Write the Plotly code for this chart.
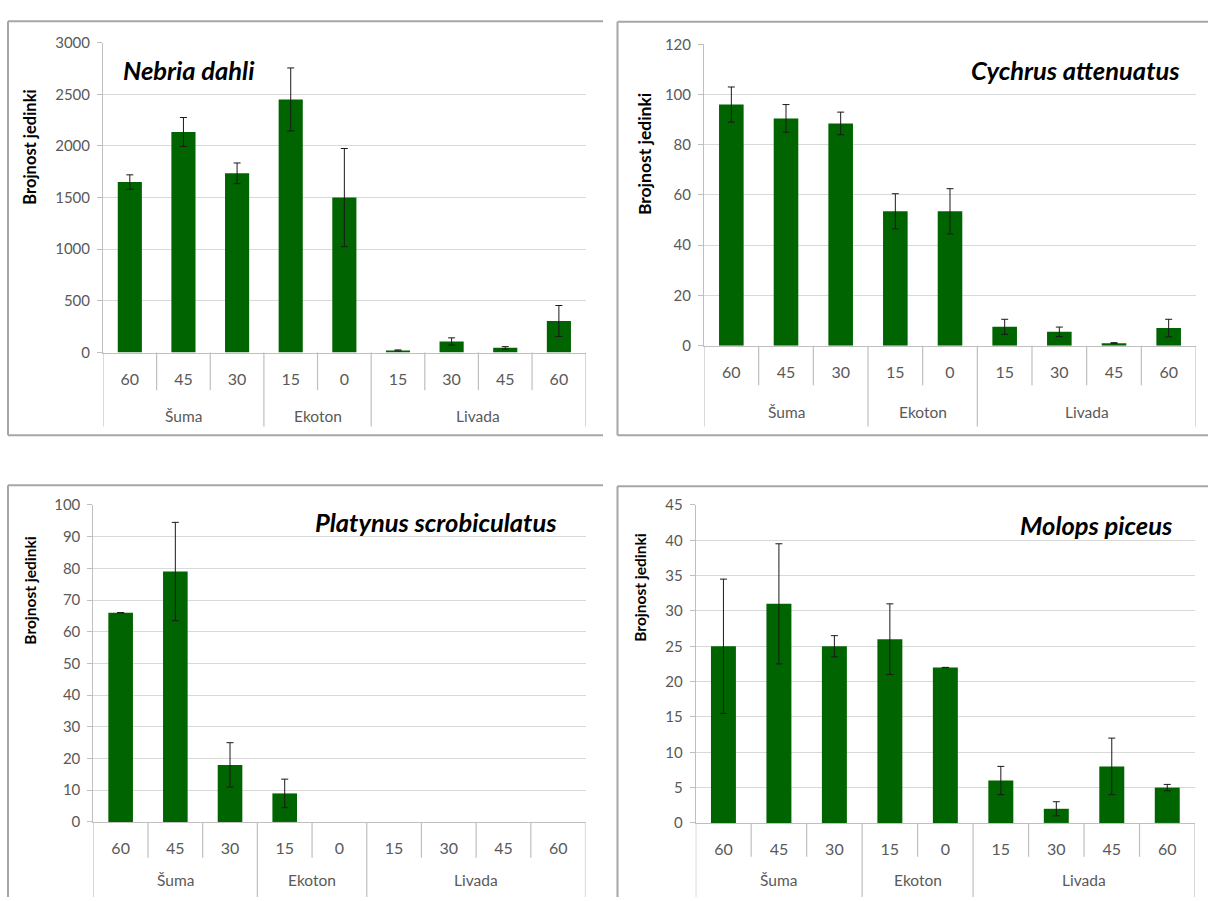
import plotly.graph_objects as go

W, H = 1208, 901

# ---------------- data ----------------
dist_labels = ["60", "45", "30", "15", "0", "15", "30", "45", "60"]
groups = ["Šuma", "Ekoton", "Livada"]
group_sizes = [3, 2, 4]

species = ["Nebria dahli", "Cychrus attenuatus", "Platynus scrobiculatus", "Molops piceus"]

nebria_mean = [1650, 2135, 1735, 2450, 1500, 20, 107, 45, 305]
nebria_err = [70, 140, 100, 305, 475, 5, 35, 12, 150]

cychrus_mean = [96, 90.5, 88.5, 53.5, 53.5, 7.5, 5.5, 1, 7]
cychrus_err = [7, 5.5, 4.5, 7, 9, 3, 1.9, 0.2, 3.5]

platynus_mean = [66, 79, 18, 9, 0, 0, 0, 0, 0]
platynus_err = [0, 15.5, 7, 4.5, 0, 0, 0, 0, 0]

molops_mean = [25, 31, 25, 26, 22, 6, 2, 8, 5]
molops_err = [9.5, 8.5, 1.5, 5, 0, 2, 1, 4, 0.45]

y_title = "Brojnost jedinki"

# ---------------- layout helpers ----------------
def px_x(px):
    return px / W

def px_y(py):
    return 1 - py / H

BAR = "#006400"
GRID = "#d9d9d9"
AXIS = "#bfbfbf"
TXT = "#595959"
FRAME = "#a6a6a6"
FONT = "Lato"

panels = [
    dict(m=nebria_mean, e=nebria_err, ymax=3000, dt=500, x0=103, x1=585.7, yz=349.5, yt=33.3,
         ib=388, gb=425, grp_y=414, tx=120.5, ty=61, ta="left", ax=30.5, ay=140, asz=16.5),
    dict(m=cychrus_mean, e=cychrus_err, ymax=120, dt=20, x0=704, x1=1196, yz=342.5, yt=35,
         ib=383, gb=425, grp_y=410, tx=1182, ty=61.5, ta="right", ax=644, ay=147, asz=17.5),
    dict(m=platynus_mean, e=platynus_err, ymax=100, dt=10, x0=93.3, x1=585.5, yz=828.5, yt=505,
         ib=865, gb=905, grp_y=888, tx=313, ty=522, ta="left", ax=30.5, ay=593, asz=15.5),
    dict(m=molops_mean, e=molops_err, ymax=45, dt=5, x0=695.7, x1=1195, yz=829.5, yt=505,
         ib=864, gb=905, grp_y=888, tx=1175, ty=525, ta="right", ax=640.5, ay=590, asz=15.5),
]

fig = go.Figure()
shapes = []
annotations = []

xs = list(range(len(dist_labels)))

bounds = [-0.5]
for s in group_sizes:
    bounds.append(bounds[-1] + s)
group_centers = [(bounds[i] + bounds[i + 1]) / 2 for i in range(len(groups))]

for i, p in enumerate(panels):
    k = "" if i == 0 else str(i + 1)
    xa, ya = "x" + k, "y" + k
    # zero counts are drawn as empty slots (no bar, no error cap), as in the source
    yvals = [v if v > 0 else None for v in p["m"]]
    fig.add_trace(go.Bar(
        x=xs, y=yvals, xaxis=xa, yaxis=ya,
        marker=dict(color=BAR, line=dict(width=0)),
        error_y=dict(type="data", array=p["e"], visible=True, color="#1a1a1a",
                     thickness=1, width=3.5),
        showlegend=False, hoverinfo="skip",
    ))
    xd = [px_x(p["x0"]), px_x(p["x1"])]
    yd = [px_y(p["yz"]), px_y(p["yt"])]
    fig.update_layout(**{
        "xaxis" + k: dict(domain=xd, anchor=ya, range=[-0.5, len(xs) - 0.5],
                          tickvals=xs, ticktext=dist_labels, ticks="",
                          showgrid=False, zeroline=False, showline=True,
                          linecolor=AXIS, linewidth=1,
                          tickfont=dict(family=FONT, size=16, color=TXT),
                          ticklabelstandoff=12, fixedrange=True),
        "yaxis" + k: dict(domain=yd, anchor=xa, range=[0, p["ymax"]], dtick=p["dt"],
                          showgrid=True, gridcolor=GRID, gridwidth=1,
                          zeroline=False, showline=True, linecolor=AXIS, linewidth=1,
                          ticks="outside", ticklen=5, tickcolor=AXIS,
                          ticklabelstandoff=4,
                          tickfont=dict(family=FONT, size=15, color=TXT),
                          fixedrange=True),
    })
    for b in range(len(xs) + 1):
        xv = b - 0.5
        long = xv in bounds
        shapes.append(dict(type="line", xref=xa, yref="paper",
                           x0=xv, x1=xv, y0=px_y(p["yz"]),
                           y1=px_y(p["gb"] if long else p["ib"]),
                           line=dict(color=AXIS, width=1.2)))
    for g, c in zip(groups, group_centers):
        annotations.append(dict(text=g, x=c, xref=xa, y=px_y(p["grp_y"]), yref="paper",
                                showarrow=False, xanchor="center", yanchor="middle",
                                font=dict(family=FONT, size=15.5, color=TXT)))
    annotations.append(dict(text="<b><i>%s</i></b>" % species[i], x=px_x(p["tx"]), xref="paper",
                            y=px_y(p["ty"]), yref="paper", showarrow=False,
                            xanchor=p["ta"], yanchor="middle",
                            font=dict(family=FONT, size=25.5, color="#000000")))
    annotations.append(dict(text="<b>%s</b>" % y_title, x=px_x(p["ax"]), xref="paper",
                            y=px_y(p["ay"]), yref="paper", showarrow=False, textangle=-90,
                            xanchor="center", yanchor="middle",
                            font=dict(family=FONT, size=p["asz"], color="#000000")))

def fline(x0, y0, x1, y1):
    shapes.append(dict(type="line", xref="paper", yref="paper",
                       x0=px_x(x0), y0=px_y(y0), x1=px_x(x1), y1=px_y(y1),
                       line=dict(color=FRAME, width=2)))

fline(8, 11.5, 603, 11.5); fline(8, 11.5, 8, 434); fline(8, 434, 603, 434)
fline(617.5, 12, 1210, 12); fline(617.5, 12, 617.5, 434); fline(617.5, 434, 1210, 434)
fline(8, 485, 603, 485); fline(8, 485, 8, 905)
fline(617.5, 486, 1210, 486); fline(617.5, 486, 617.5, 905)

fig.update_layout(
    width=W, height=H, autosize=False,
    margin=dict(l=0, r=0, t=0, b=0),
    paper_bgcolor="white", plot_bgcolor="white",
    bargap=0.55, shapes=shapes, annotations=annotations,
    font=dict(family=FONT, color=TXT),
)

fig.write_html("out.html", config={"displayModeBar": False},
               post_script="document.body.style.margin='0';document.body.style.padding='0';"
                           "document.body.style.overflow='hidden';")
